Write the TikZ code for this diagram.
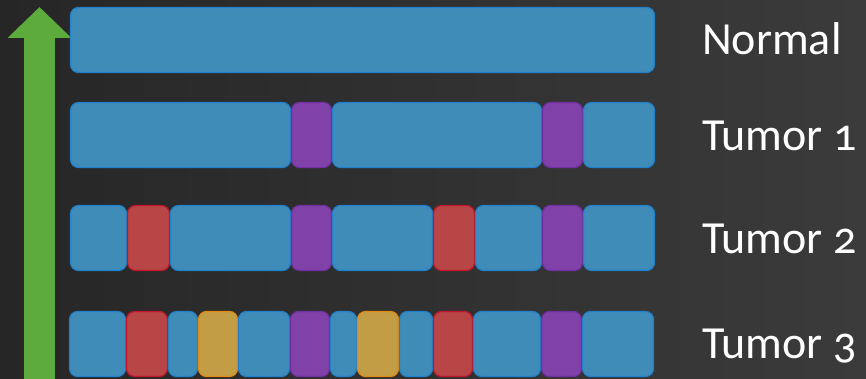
\documentclass[tikz,border=0pt]{standalone}
\usepackage{fontspec}
\setmainfont[Numbers=OldStyle]{Carlito}
\usepackage{tikz}
\usetikzlibrary{arrows.meta,positioning,calc}
\definecolor{bgleft}{HTML}{262626}
\definecolor{bgright}{HTML}{3B3B3B}
\definecolor{blue}{HTML}{408CB9}
\definecolor{blueline}{HTML}{2080CC}
\definecolor{purple}{HTML}{8042A8}
\definecolor{purpleline}{HTML}{7030A0}
\definecolor{red}{HTML}{B84646}
\definecolor{redline}{HTML}{C0152A}
\definecolor{gold}{HTML}{C39C46}
\definecolor{goldline}{HTML}{E08A12}
\definecolor{arrowgreen}{HTML}{5DAA3D}

\tikzset{
  seg/.style={draw=#1line, fill=#1, line width=1.2pt, rounded corners=8pt,
    minimum height=65pt, inner sep=0pt, outer sep=0pt},
  lbl/.style={text=white, font=\fontsize{46}{50}\selectfont, inner sep=0pt, anchor=base west}
}

\begin{document}
\begin{tikzpicture}[x=1pt, y=1pt]
  % background
  \useasboundingbox (0,0) rectangle (866,378);
  \shade[left color=bgleft, right color=bgright] (0,0) rectangle (866,378);

  % arrow
  \coordinate (arrbase) at (39.5,-2);
  \coordinate (arrtip) at (39.5,371);
  \draw[arrowgreen, line width=31pt, -{Triangle[width=62pt, length=31pt]}] (arrbase) -- (arrtip);

  % normal
  \node[seg=blue, minimum width=584pt] (normal) at (362.5,338) {};

  % tumor 1
  \foreach \l/\r/\c [count=\i] in {70/291/blue, 291/332/purple, 332/542/blue,
      542/583/purple, 583/655/blue}
    \node[seg=\c, minimum width={\r-\l-1}] (ta\i) at ({(\l+\r)/2},243) {};

  % tumor 2
  \foreach \l/\r/\c [count=\i] in {70/127/blue, 127/170/red, 170/291/blue,
      291/332/purple, 332/433/blue, 433/475/red, 475/542/blue, 542/583/purple,
      583/655/blue}
    \node[seg=\c, minimum width={\r-\l-1}] (tb\i) at ({(\l+\r)/2},140) {};

  % tumor 3
  \foreach \l/\r/\c [count=\i] in {69/126/blue, 126/168/red, 168/198/blue,
      198/238/gold, 238/290/blue, 290/330/purple, 330/357/blue, 357/399/gold,
      399/433/blue, 433/473/red, 473/541/blue, 541/582/purple, 582/654/blue}
    \node[seg=\c, minimum width={\r-\l-1}] (tc\i) at ({(\l+\r)/2},34) {};

  % labels
  \node[lbl] (lnormal) at (702,323) {Normal};
  \node[lbl] (ltumora) at (702,228) {Tumor 1};
  \node[lbl] (ltumorb) at (702,125) {Tumor 2};
  \node[lbl] (ltumorc) at (702,20) {Tumor 3};
\end{tikzpicture}
\end{document}
